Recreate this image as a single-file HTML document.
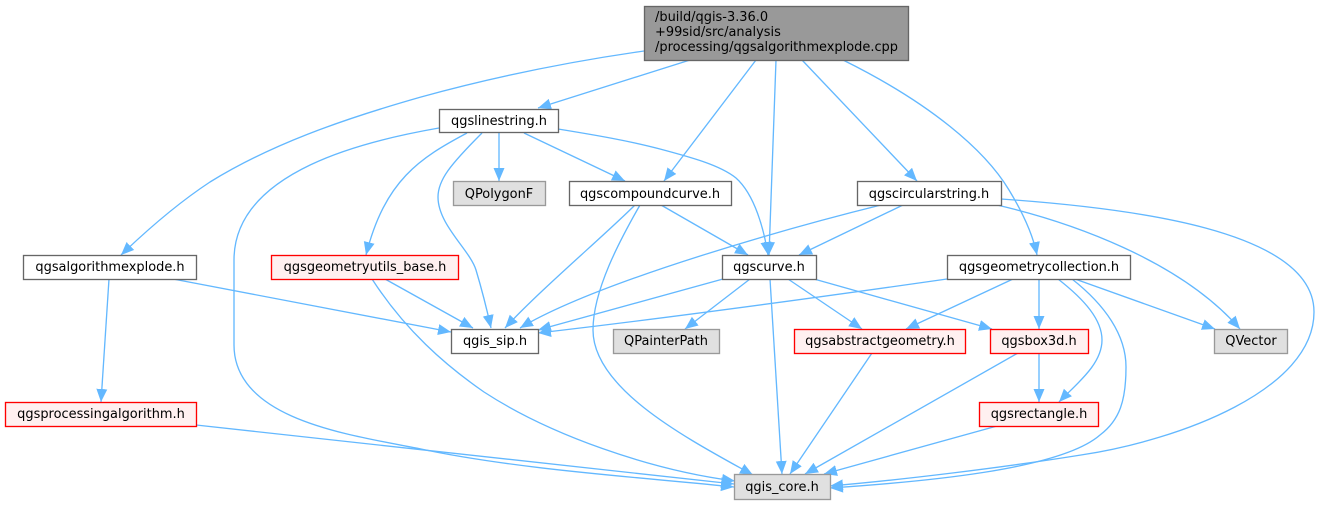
<!DOCTYPE html>
<html><head><meta charset="utf-8"><style>
html,body{margin:0;padding:0;background:#fff;width:1318px;height:505px;overflow:hidden}
svg{display:block;filter:blur(0.3px)}
.e{fill:none;stroke:#63b8ff;stroke-width:1.33;marker-end:url(#a)}
rect{stroke-width:1.33}
.w{fill:#fff;stroke:#666}
.g{fill:#e0e0e0;stroke:#999}
.r{fill:#fff0f0;stroke:#f00}
text{font-family:"DejaVu Sans",sans-serif;font-size:12.95px;fill:#000;text-anchor:middle}
.l{text-anchor:start}
</style></head><body>
<svg width="1318" height="505" viewBox="0 0 1318 505" xmlns="http://www.w3.org/2000/svg">
<defs><marker id="a" markerUnits="userSpaceOnUse" markerWidth="14" markerHeight="12" refX="13" refY="5.5" orient="auto"><path d="M0,0L13,5.5L0,11z" fill="#63b8ff"/></marker></defs>
<path class="e" d="M644,51C560,63 490,78 421,97C340,120 270,145 210,182C175,205 145,232 121,255"/>
<path class="e" d="M690,60L538,108"/>
<path class="e" d="M756,60L664,181"/>
<path class="e" d="M776,60L769,255"/>
<path class="e" d="M802,60L917,181"/>
<path class="e" d="M843,60C930,103 985,150 1009,190C1026,218 1034,240 1037,255"/>
<path class="e" d="M558,129C595,135 630,141 660,149C690,157 720,165 736,178C755,195 764,230 768,255"/>
<path class="e" d="M499,133L499,181"/>
<path class="e" d="M524,133L625,181"/>
<path class="e" d="M467,133C420,158 385,180 366,255"/>
<path class="e" d="M482,133C450,165 438,180 438,197C438,225 470,250 476,270C482,290 487,310 491,328"/>
<path class="e" d="M439,128C370,140 234,170 234,260C234,300 234,320 234,345C234,420 350,435 421,449C520,470 650,478 734,487"/>
<path class="e" d="M661,205L748,255"/>
<path class="e" d="M635,205C605,235 540,290 505,328"/>
<path class="e" d="M640,205C620,240 593,290 593,330C593,390 690,440 753,475"/>
<path class="e" d="M903,205L799,255"/>
<path class="e" d="M881,205C800,225 600,280 520,328"/>
<path class="e" d="M997,205C1070,222 1180,260 1240,329"/>
<path class="e" d="M1001,199C1130,208 1314,230 1314,312C1314,390 1180,440 1081,455C1000,468 900,480 830,486"/>
<path class="e" d="M947,279C800,300 650,320 538,333"/>
<path class="e" d="M1013,279L906,329"/>
<path class="e" d="M1039,279L1039,329"/>
<path class="e" d="M1058,279C1085,300 1102,320 1102,340C1102,365 1075,385 1059,402"/>
<path class="e" d="M1072,279C1105,305 1126,335 1126,367C1126,400 1120,420 1100,435C1060,470 920,482 830,488"/>
<path class="e" d="M1075,279L1215,329"/>
<path class="e" d="M723,279L538,330"/>
<path class="e" d="M750,279L685,329"/>
<path class="e" d="M788,279L862,329"/>
<path class="e" d="M814,279L992,329"/>
<path class="e" d="M770,279L782,474"/>
<path class="e" d="M872,353L790,474"/>
<path class="e" d="M1018,353L805,474"/>
<path class="e" d="M1039,353L1039,402"/>
<path class="e" d="M997,426L824,474"/>
<path class="e" d="M385,279L473,328"/>
<path class="e" d="M372,279C405,330 445,365 484,392C550,435 650,470 735,481"/>
<path class="e" d="M173,279L451,332"/>
<path class="e" d="M109,279L101,402"/>
<path class="e" d="M196,425L734,484"/>
<rect x="644.5" y="6.5" width="264" height="54" fill="#999" stroke="#666"/>
<text class="l" x="655" y="21">/build/qgis-3.36.0</text>
<text class="l" x="655" y="36">+99sid/src/analysis</text>
<text class="l" x="655" y="51">/processing/qgsalgorithmexplode.cpp</text>
<rect class="w" x="439.5" y="109.5" width="119" height="23"/><text x="499" y="125">qgslinestring.h</text>
<rect class="g" x="453.5" y="181.5" width="92" height="24"/><text x="499" y="198">QPolygonF</text>
<rect class="w" x="569.5" y="181.5" width="162" height="24"/><text x="650" y="198">qgscompoundcurve.h</text>
<rect class="w" x="857.5" y="181.5" width="144" height="24"/><text x="929" y="198">qgscircularstring.h</text>
<rect class="w" x="23.5" y="255.5" width="173" height="24"/><text x="110" y="271">qgsalgorithmexplode.h</text>
<rect class="r" x="271.5" y="255.5" width="187" height="24"/><text x="365" y="271">qgsgeometryutils_base.h</text>
<rect class="w" x="722.5" y="255.5" width="94" height="24"/><text x="769" y="271">qgscurve.h</text>
<rect class="w" x="947.5" y="255.5" width="183" height="24"/><text x="1039" y="271">qgsgeometrycollection.h</text>
<rect class="w" x="451.5" y="329.5" width="87" height="24"/><text x="495" y="345">qgis_sip.h</text>
<rect class="g" x="613.5" y="329.5" width="106" height="24"/><text x="666" y="345">QPainterPath</text>
<rect class="r" x="794.5" y="329.5" width="171" height="24"/><text x="880" y="345">qgsabstractgeometry.h</text>
<rect class="r" x="990.5" y="329.5" width="98" height="24"/><text x="1039" y="345">qgsbox3d.h</text>
<rect class="g" x="1214.5" y="329.5" width="73" height="24"/><text x="1251" y="345">QVector</text>
<rect class="r" x="5.5" y="402.5" width="191" height="24"/><text x="101" y="418">qgsprocessingalgorithm.h</text>
<rect class="r" x="979.5" y="402.5" width="119" height="24"/><text x="1039" y="418">qgsrectangle.h</text>
<rect class="g" x="734.5" y="474.5" width="96" height="25"/><text x="782" y="491">qgis_core.h</text>
</svg>
</body></html>
